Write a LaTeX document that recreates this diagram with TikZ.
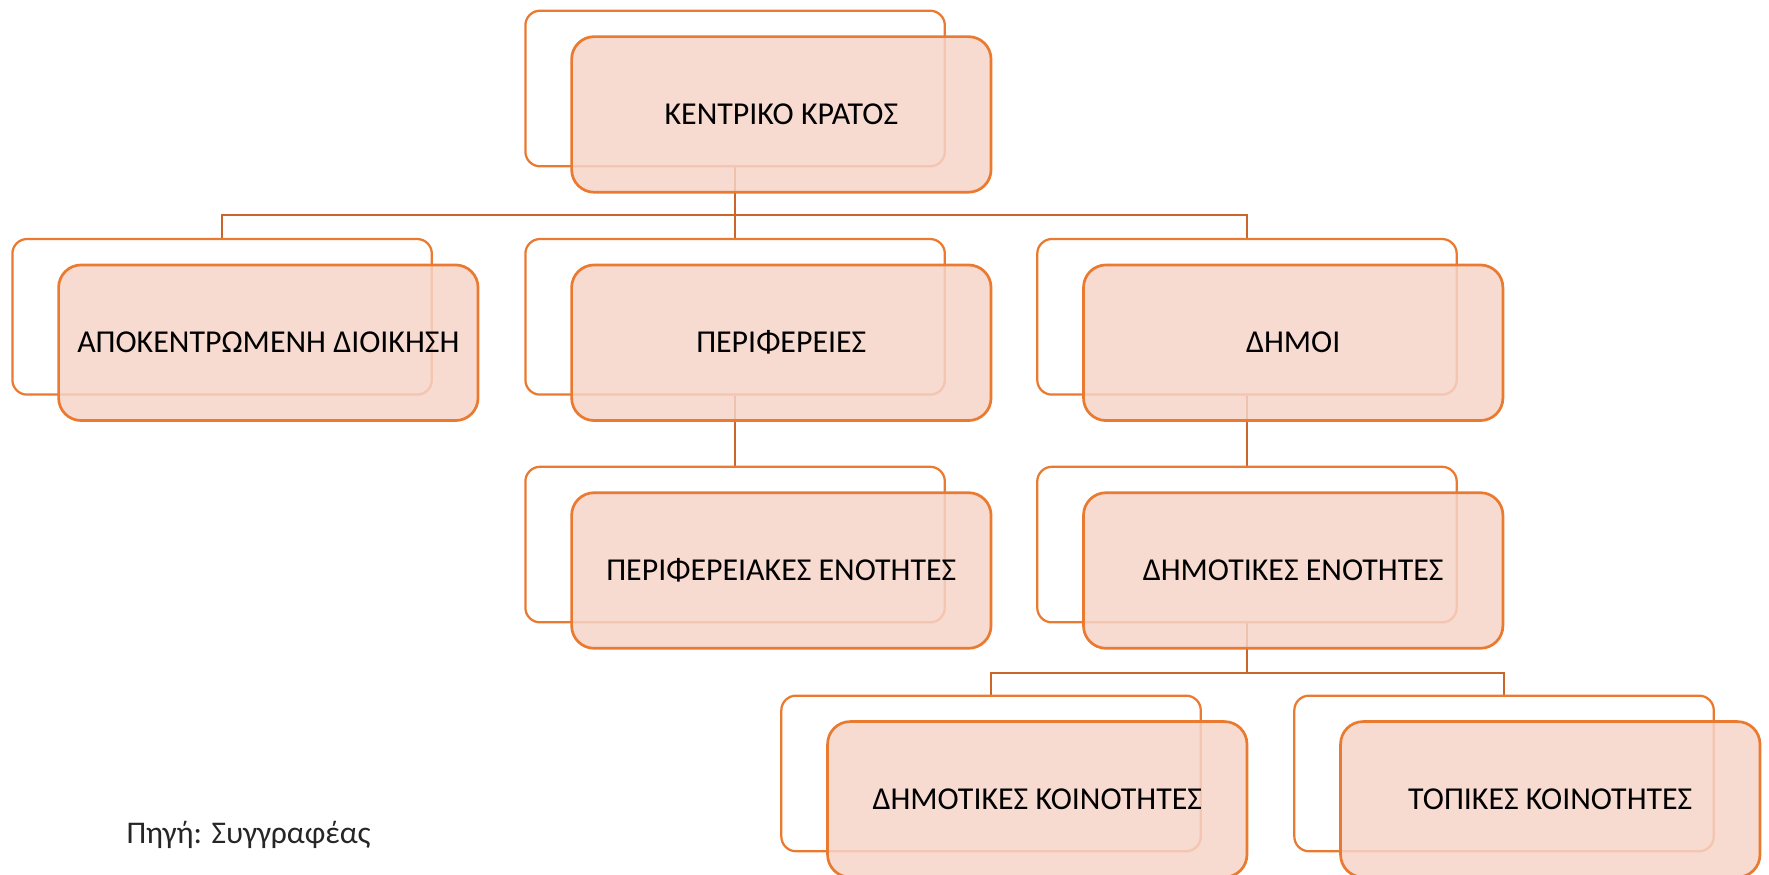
\documentclass[tikz,border=0pt]{standalone}
\usepackage{fontspec}
\setmainfont{Carlito}
\usetikzlibrary{backgrounds}
\definecolor{edgec}{RGB}{234,122,48}
\definecolor{connc}{RGB}{203,102,42}
\definecolor{boxfill}{RGB}{246,211,200}
\definecolor{captc}{RGB}{38,38,38}
\begin{document}
\begin{tikzpicture}[x=1pt,y=-1pt,
  back/.style={draw=edgec, line width=2pt, rounded corners=13pt, minimum width=372pt, minimum height=138pt, inner sep=0pt},
  front/.style={draw=edgec, line width=2.4pt, rounded corners=20pt, fill=boxfill, fill opacity=0.85, text opacity=1, minimum width=372pt, minimum height=138pt, inner sep=0pt, font=\fontsize{28.3}{32}\selectfont},
  conn/.style={draw=connc, line width=2.2pt}]
\useasboundingbox (0,0) rectangle (1569,776);
\clip (0,0) rectangle (1569,776);
% level 1
\node[back] (b0) at (652,78.5) {};
\node[front] (f0) at (693,101.5) {ΚΕΝΤΡΙΚΟ ΚΡΑΤΟΣ};
% level 2
\node[back] (b1) at (197,281) {};
\node[front] (f1) at (238,304) {ΑΠΟΚΕΝΤΡΩΜΕΝΗ ΔΙΟΙΚΗΣΗ};
\node[back] (b2) at (652,281) {};
\node[front] (f2) at (693,304) {ΠΕΡΙΦΕΡΕΙΕΣ};
\node[back] (b3) at (1106,281) {};
\node[front] (f3) at (1147,304) {ΔΗΜΟΙ};
% level 3
\node[back] (c1) at (652,483) {};
\node[front] (g1) at (693,506) {ΠΕΡΙΦΕΡΕΙΑΚΕΣ ΕΝΟΤΗΤΕΣ};
\node[back] (c2) at (1106,483) {};
\node[front] (g2) at (1147,506) {ΔΗΜΟΤΙΚΕΣ ΕΝΟΤΗΤΕΣ};
% level 4
\node[back] (d1) at (879,686) {};
\node[front] (h1) at (920,709) {ΔΗΜΟΤΙΚΕΣ ΚΟΙΝΟΤΗΤΕΣ};
\node[back] (d2) at (1334,686) {};
\node[front] (h2) at (1375,709) {ΤΟΠΙΚΕΣ ΚΟΙΝΟΤΗΤΕΣ};
% caption
\node[anchor=base west, text=captc, font=\fontsize{28}{32}\selectfont, inner sep=0pt] (src) at (112,748) {Πηγή: Συγγραφέας};
\begin{scope}[on background layer]
\draw[conn] (b0.south) -- ++(0,42) -| (b1.north);
\draw[conn] (b0.south) -- ++(0,42) -| (b3.north);
\draw[conn] (b0.south) -- (b2.north);
\draw[conn] (b2.south) -- (c1.north);
\draw[conn] (b3.south) -- (c2.north);
\draw[conn] (c2.south) -- ++(0,44) -| (d1.north);
\draw[conn] (c2.south) -- ++(0,44) -| (d2.north);
\end{scope}
\end{tikzpicture}
\end{document}
